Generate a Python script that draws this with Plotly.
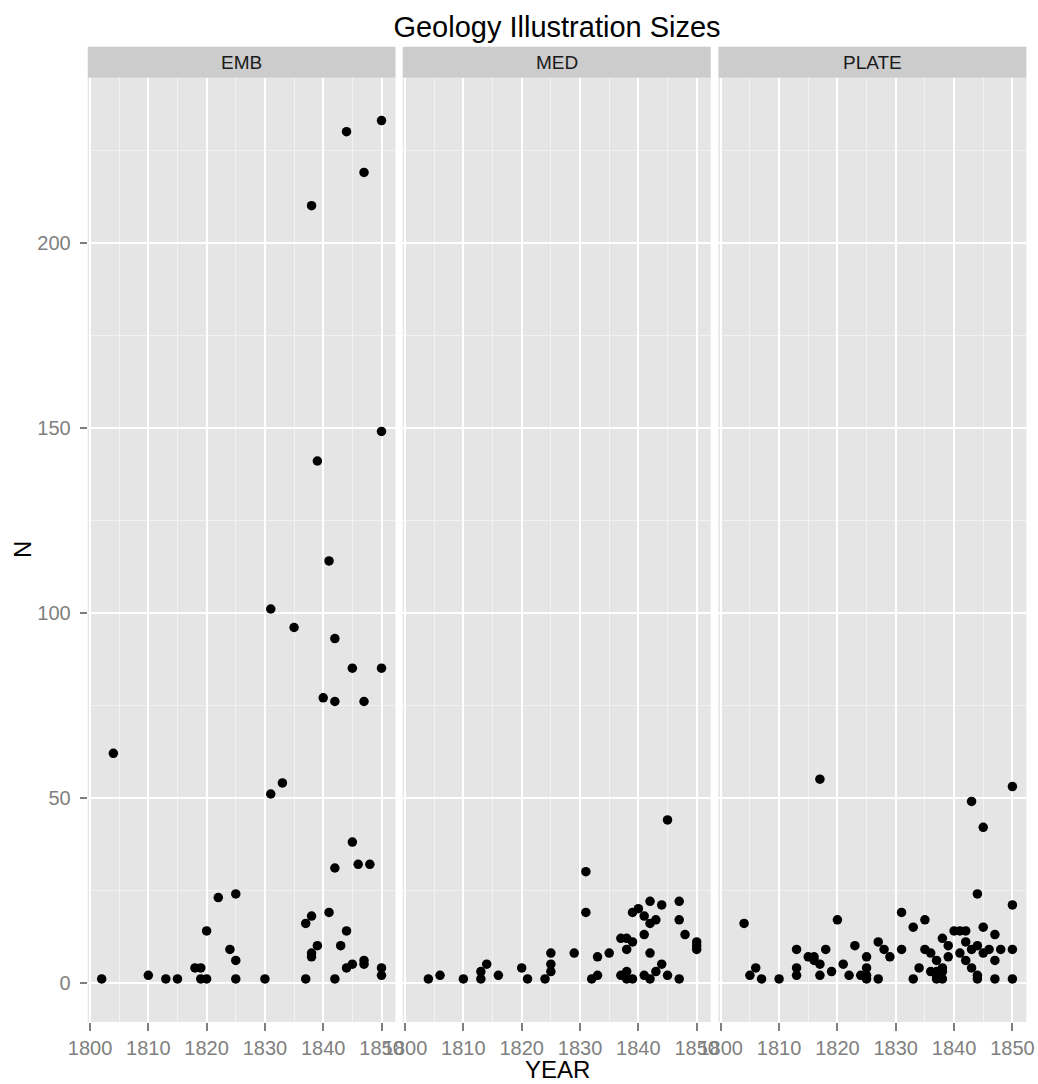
import plotly.graph_objects as go

# ---------------- data ----------------
emb_year = [1802, 1804, 1810, 1813, 1815, 1818, 1819, 1819, 1820, 1820, 1822, 1824,
            1825, 1825, 1825, 1830, 1831, 1831, 1833, 1835, 1837, 1837, 1838, 1838,
            1838, 1838, 1839, 1839, 1840, 1841, 1841, 1842, 1842, 1842, 1842, 1843,
            1844, 1844, 1844, 1845, 1845, 1845, 1846, 1847, 1847, 1847, 1847, 1848,
            1850, 1850, 1850, 1850, 1850]
emb_n = [1, 62, 2, 1, 1, 4, 4, 1, 1, 14, 23, 9,
         24, 6, 1, 1, 51, 101, 54, 96, 1, 16, 18, 8,
         7, 210, 10, 141, 77, 19, 114, 31, 1, 76, 93, 10,
         14, 4, 230, 38, 5, 85, 32, 6, 5, 76, 219, 32,
         4, 2, 233, 149, 85]

med_year = [1804, 1806, 1810, 1813, 1813, 1814, 1816, 1820, 1821, 1824, 1825, 1825,
            1825, 1829, 1831, 1831, 1832, 1833, 1833, 1835, 1837, 1837, 1838, 1838,
            1838, 1838, 1839, 1839, 1839, 1840, 1841, 1841, 1841, 1842, 1842, 1842,
            1842, 1843, 1843, 1844, 1844, 1845, 1845, 1847, 1847, 1847, 1848, 1850,
            1850, 1850]
med_n = [1, 2, 1, 1, 3, 5, 2, 4, 1, 1, 8, 5,
         3, 8, 30, 19, 1, 2, 7, 8, 12, 2, 12, 9,
         3, 1, 11, 19, 1, 20, 18, 13, 2, 22, 16, 8,
         1, 17, 3, 21, 5, 44, 2, 22, 17, 1, 13, 11,
         10, 9]

plate_year = [1804, 1805, 1806, 1807, 1810, 1813, 1813, 1813, 1815, 1816, 1816, 1817,
              1817, 1817, 1818, 1819, 1820, 1821, 1822, 1823, 1824, 1825, 1825, 1825,
              1825, 1827, 1827, 1828, 1829, 1831, 1831, 1833, 1833, 1834, 1835, 1835,
              1836, 1836, 1837, 1837, 1837, 1837, 1838, 1838, 1838, 1838, 1839, 1839,
              1840, 1841, 1841, 1842, 1842, 1842, 1843, 1843, 1843, 1844, 1844, 1844,
              1844, 1845, 1845, 1845, 1846, 1847, 1847, 1847, 1848, 1850, 1850, 1850,
              1850]
plate_n = [16, 2, 4, 1, 1, 9, 4, 2, 7, 7, 6, 5,
           55, 2, 9, 3, 17, 5, 2, 10, 2, 7, 4, 2,
           1, 11, 1, 9, 7, 19, 9, 15, 1, 4, 17, 9,
           8, 3, 6, 3, 2, 1, 4, 3, 1, 12, 10, 7,
           14, 14, 8, 14, 11, 6, 9, 4, 49, 24, 10, 2,
           1, 42, 15, 8, 9, 13, 6, 1, 9, 53, 21, 9,
           1]

panels = ["EMB", "MED", "PLATE"]
x_ticks = [1800, 1810, 1820, 1830, 1840, 1850]
y_ticks = [0, 50, 100, 150, 200]

# ---------------- layout geometry ----------------
W, H = 1038, 1084
FONT = "Liberation Sans, Arial, Helvetica, sans-serif"
GREY_TXT = "#7F7F7F"

all_x = emb_year + med_year + plate_year
all_y = emb_n + med_n + plate_n
xr = [min(all_x) - 0.05 * (max(all_x) - min(all_x)), max(all_x) + 0.05 * (max(all_x) - min(all_x))]
yr = [min(all_y) - 0.05 * (max(all_y) - min(all_y)), max(all_y) + 0.05 * (max(all_y) - min(all_y))]

px_panels = [(87.7, 395.5), (402.7, 710.7), (718.4, 1026.4)]
panel_top, panel_bot = 77.7, 1021.9
strip_top = 46.7

fig = go.Figure()
series = [(emb_year, emb_n), (med_year, med_n), (plate_year, plate_n)]
for i, (xs, ys) in enumerate(series):
    suffix = "" if i == 0 else str(i + 1)
    fig.add_trace(go.Scatter(
        x=xs, y=ys, mode="markers",
        marker=dict(size=9.5, color="black", line=dict(width=0)),
        xaxis="x" + suffix, yaxis="y" + suffix, showlegend=False,
        hoverinfo="x+y"))

layout = dict(
    width=W, height=H,
    margin=dict(l=0, r=0, t=0, b=0, autoexpand=False),
    paper_bgcolor="white",
    plot_bgcolor="#E5E5E5",
    font=dict(family=FONT, color="black"),
    showlegend=False,
    title=dict(text="Geology Illustration Sizes", x=557 / W, xanchor="center",
               y=1 - 27 / H, yanchor="middle", xref="paper", yref="paper",
               font=dict(size=29, color="black", family=FONT)),
)

shapes = []
annotations = []
for i, (l, r) in enumerate(px_panels):
    suffix = "" if i == 0 else str(i + 1)
    xa = dict(
        domain=[l / W, r / W], range=xr, anchor="y" + suffix, automargin=False,
        tickmode="array", tickvals=x_ticks, ticktext=[str(v) for v in x_ticks],
        ticks="outside", ticklen=8, tickwidth=1.5, tickcolor=GREY_TXT,
        tickfont=dict(size=20, color=GREY_TXT, family=FONT),
        showgrid=True, gridcolor="white", gridwidth=2,
        minor=dict(dtick=5, tick0=1805, showgrid=True, gridcolor="#F2F2F2", gridwidth=1, ticks=""),
        zeroline=False, showline=False, fixedrange=True,
    )
    ya = dict(
        domain=[1 - panel_bot / H, 1 - panel_top / H], range=yr, anchor="x" + suffix,
        automargin=False,
        tickmode="array", tickvals=y_ticks, ticktext=[str(v) for v in y_ticks],
        showgrid=True, gridcolor="white", gridwidth=2,
        minor=dict(dtick=25, tick0=25, showgrid=True, gridcolor="#F2F2F2", gridwidth=1, ticks=""),
        zeroline=False, showline=False, fixedrange=True,
    )
    if i == 0:
        ya.update(ticks="outside", ticklen=7, tickwidth=1.5, tickcolor=GREY_TXT,
                  ticklabelstandoff=5,
                  tickfont=dict(size=20, color=GREY_TXT, family=FONT), showticklabels=True)
    else:
        ya.update(ticks="", showticklabels=False, matches="y")
    layout["xaxis" + suffix] = xa
    layout["yaxis" + suffix] = ya

    shapes.append(dict(type="rect", xref="paper", yref="paper",
                       x0=l / W, x1=r / W, y0=1 - panel_top / H, y1=1 - strip_top / H,
                       fillcolor="#CCCCCC", line=dict(width=0), layer="below"))
    annotations.append(dict(text=panels[i], xref="paper", yref="paper",
                            x=(l + r) / 2 / W, y=1 - (strip_top + panel_top) / 2 / H,
                            xanchor="center", yanchor="middle", showarrow=False,
                            font=dict(size=19, color="#1A1A1A", family=FONT)))

annotations.append(dict(text="YEAR", xref="paper", yref="paper",
                        x=557 / W, y=1 - 1069 / H, xanchor="center", yanchor="middle",
                        showarrow=False, font=dict(size=24, color="black", family=FONT)))
annotations.append(dict(text="N", xref="paper", yref="paper",
                        x=22 / W, y=1 - 550 / H, xanchor="center", yanchor="middle",
                        textangle=-90, showarrow=False,
                        font=dict(size=24, color="black", family=FONT)))

layout["shapes"] = shapes
layout["annotations"] = annotations
fig.update_layout(**layout)

fig.write_html("out.html")
